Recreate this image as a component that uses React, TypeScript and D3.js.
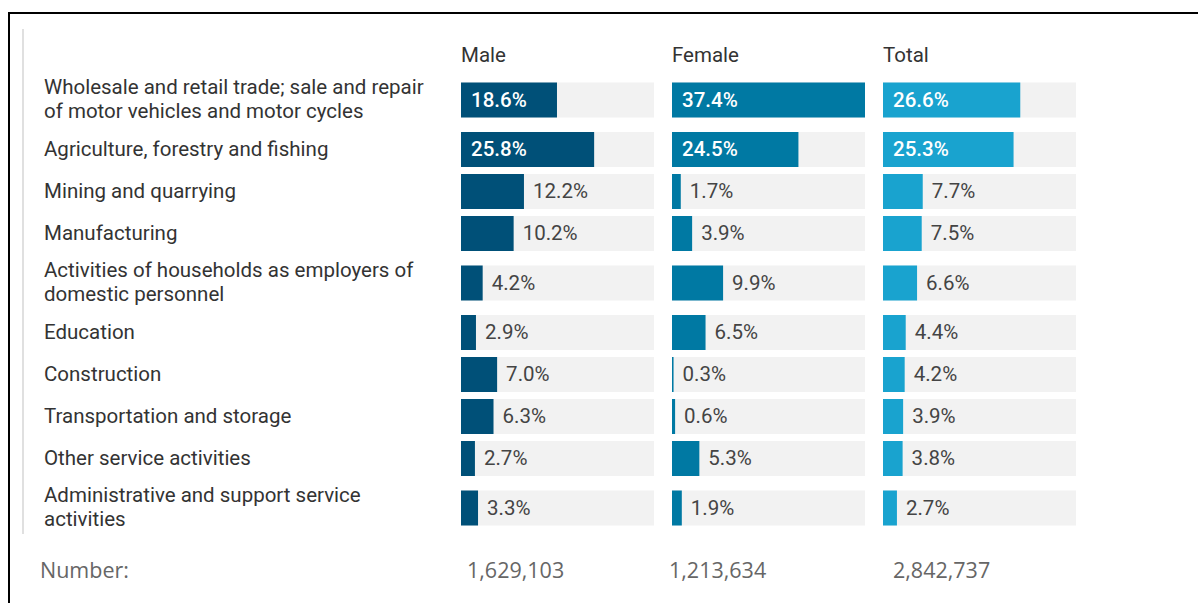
import React from "react";
import * as d3 from "d3";

const categories = [
  ["Wholesale and retail trade; sale and repair", "of motor vehicles and motor cycles"],
  ["Agriculture, forestry and fishing"],
  ["Mining and quarrying"],
  ["Manufacturing"],
  ["Activities of households as employers of", "domestic personnel"],
  ["Education"],
  ["Construction"],
  ["Transportation and storage"],
  ["Other service activities"],
  ["Administrative and support service", "activities"],
];

const columns = ["Male", "Female", "Total"];
const maleValues = [18.6, 25.8, 12.2, 10.2, 4.2, 2.9, 7.0, 6.3, 2.7, 3.3];
const femaleValues = [37.4, 24.5, 1.7, 3.9, 9.9, 6.5, 0.3, 0.6, 5.3, 1.9];
const totalValues = [26.6, 25.3, 7.7, 7.5, 6.6, 4.4, 4.2, 3.9, 3.8, 2.7];
const numbers = ["1,629,103", "1,213,634", "2,842,737"];

const colors = ["#005078", "#0079a3", "#19a3cf"];
const font = "Roboto, 'Noto Sans', sans-serif";
const numFont = "'Open Sans', 'Noto Sans', sans-serif";
const numOffsets = [6, -3, 10];

export default function App() {
  const series = [maleValues, femaleValues, totalValues];
  const colX = d3.scaleBand<string>().domain(columns).range([461, 1094]);
  const x = d3.scaleLinear().domain([0, 37.4]).range([0, 193]);
  const barH = 35;
  const fs = 20.5;

  // row centers: two-line labels need a little extra room
  const centers: number[] = [];
  categories.forEach((c, i) => {
    if (i === 0) centers.push(100);
    else {
      const extra = 7.5 * ((categories[i - 1].length > 1 ? 1 : 0) + (c.length > 1 ? 1 : 0));
      centers.push(centers[i - 1] + 42 + extra);
    }
  });

  return (
    <svg width={1198} height={603} style={{ position: "absolute", left: 0, top: 0, background: "#fff" }}>
      <line x1={8} x2={1198} y1={13} y2={13} stroke="#000" strokeWidth={2} />
      <line x1={9} x2={9} y1={12} y2={603} stroke="#000" strokeWidth={2} />
      <line x1={23} x2={23} y1={29} y2={534} stroke="#e0e0e0" strokeWidth={2} />

      {columns.map((c) => (
        <text key={c} x={colX(c)} y={62} fontFamily={font} fontSize={fs} fill="#333">
          {c}
        </text>
      ))}

      {categories.map((lines, i) => (
        <text key={i} fontFamily={font} fontSize={fs} fill="#333">
          {lines.map((l, j) => (
            <tspan key={j} x={44} y={centers[i] + 6 + (lines.length > 1 ? (j === 0 ? -12 : 12) : 0)}>
              {l}
            </tspan>
          ))}
        </text>
      ))}

      {columns.map((c, ci) => (
        <g key={c} transform={`translate(${colX(c)},0)`}>
          {series[ci].map((v, i) => {
            const w = x(v);
            const inside = v >= 15;
            return (
              <g key={i}>
                <rect x={0} y={centers[i] - barH / 2} width={x(37.4)} height={barH} fill="#f2f2f2" />
                <rect x={0} y={centers[i] - barH / 2} width={w} height={barH} fill={colors[ci]} />
                <text
                  x={inside ? 10 : w + 9}
                  y={centers[i] + 6.5}
                  fontFamily={font}
                  fontSize={fs}
                  fontWeight={inside ? 500 : 400}
                  fill={inside ? "#fff" : "#444"}
                >
                  {v.toFixed(1)}%
                </text>
              </g>
            );
          })}
        </g>
      ))}

      <text x={40} y={578} fontFamily={numFont} fontSize={21.5} fill="#666">
        Number:
      </text>
      {columns.map((c, ci) => (
        <text key={c} x={(colX(c) as number) + numOffsets[ci]} y={578} fontFamily={numFont} fontSize={21.5} fill="#666">
          {numbers[ci]}
        </text>
      ))}
    </svg>
  );
}
